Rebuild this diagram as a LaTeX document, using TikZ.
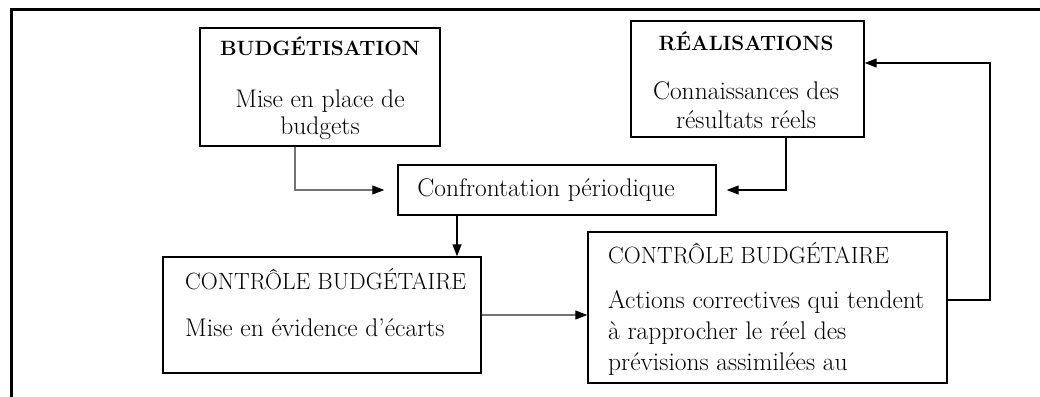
\documentclass[tikz,border=0pt]{standalone}
\usetikzlibrary{arrows.meta}
\tikzset{
  box/.style={draw=black, line width=1.4pt, rectangle, inner sep=0pt},
  conn/.style={line width=1.2pt, -{Triangle[length=12pt,width=9pt]}},
  grayconn/.style={line width=1.2pt, draw=black!55, -{Triangle[length=12pt,width=9pt,color=black]}},
  head/.style={font=\fontsize{20.7}{25}\selectfont\bfseries, inner sep=0pt},
  caps/.style={font=\fontsize{23.5}{28}\selectfont, inner sep=0pt},
  body/.style={font=\fontsize{25.5}{31}\selectfont, inner sep=0pt},
}
\begin{document}
\begin{tikzpicture}[x=1pt,y=-1pt]
\useasboundingbox (0,0) rectangle (1040,396);
% outer frame
\draw[line width=3pt] (11,398) -- (11,10) -- (1042,10);

% boxes
\node[box, minimum width=240pt, minimum height=118pt] (bud) at (320,87) {};
\node[box, minimum width=233pt, minimum height=116pt] (real) at (747.5,79) {};
\node[box, minimum width=318pt, minimum height=50pt] (conf) at (557,190) {};
\node[box, minimum width=318pt, minimum height=116pt] (cbl) at (322,315) {};
\node[box, minimum width=359pt, minimum height=151pt] (cbr) at (767.5,307.5) {};

% texts
\node[head, anchor=base] (t1) at (320,56) {BUDGÉTISATION};
\node[body, anchor=base] (t2) at (320,107) {Mise en place de};
\node[body, anchor=base] (t3) at (320,134) {budgets};

\node[head, anchor=base] (t4) at (746,50) {RÉALISATIONS};
\node[body, anchor=base] (t5) at (746,99) {Connaissances des};
\node[body, anchor=base] (t6) at (746,128) {résultats réels};

\node[body, anchor=base] (t7) at (546,196) {Confrontation périodique};

\node[caps, anchor=base west] (t8) at (185,289) {CONTRÔLE BUDGÉTAIRE};
\node[body, anchor=base west] (t9) at (185,336) {Mise en évidence d’écarts};

\node[caps, anchor=base west] (t10) at (608,263) {CONTRÔLE BUDGÉTAIRE};
\node[body, anchor=base west] (t11) at (608,308) {Actions correctives qui tendent};
\node[body, anchor=base west] (t12) at (608,339) {à rapprocher le réel des};
\node[body, anchor=base west] (t13) at (608,370) {prévisions assimilées au};

% connectors
\coordinate (c1) at (295,0);
\coordinate (c2) at (786,0);
\coordinate (c3) at (457,0);
\coordinate (c4) at (0,315);
\coordinate (c5) at (0,300);
\coordinate (c6) at (990,63);
\coordinate (c7) at (0,63);
\draw[grayconn, shorten >=13pt] (bud.south -| c1) |- (conf.west);
\draw[conn, shorten >=10pt] (real.south -| c2) |- (conf.east);
\draw[conn] (conf.south -| c3) -- (cbl.north -| c3);
\draw[grayconn] (cbl.east |- c4) -- (cbr.west |- c4);
\draw[conn] (cbr.east |- c5) -| (c6) -- (real.east |- c7);
\end{tikzpicture}
\end{document}
